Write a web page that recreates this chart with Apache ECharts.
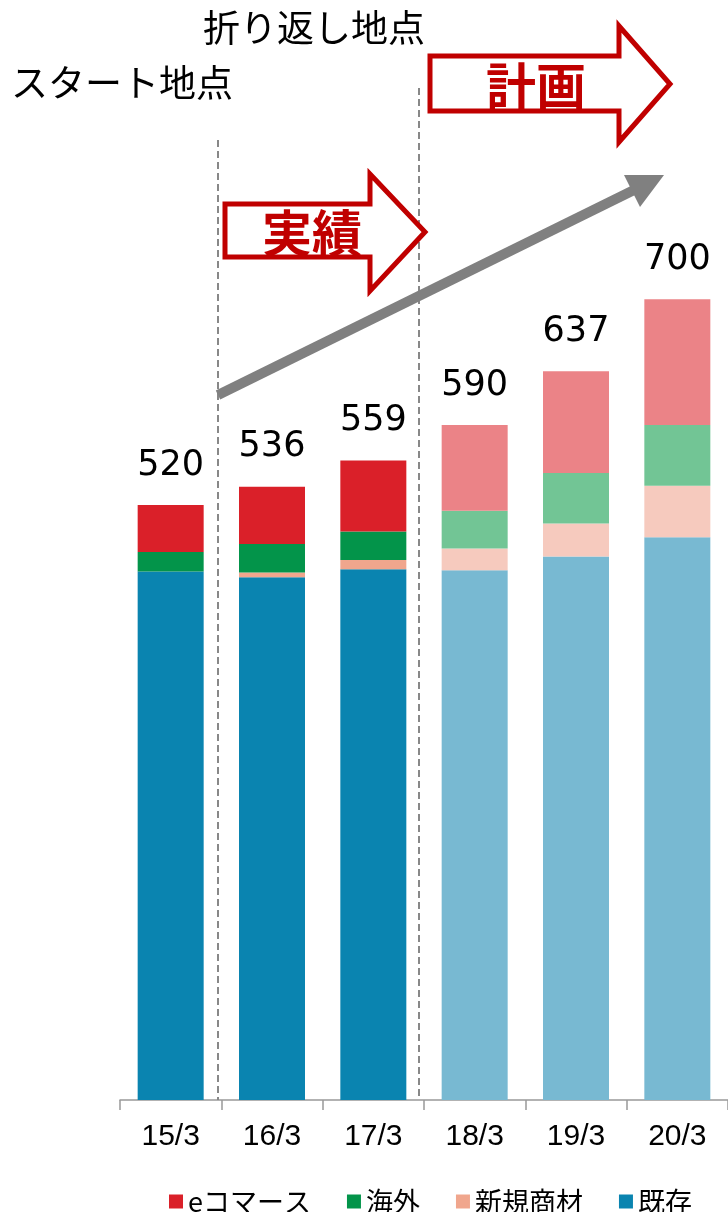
<!DOCTYPE html>
<html>
<head>
<meta charset="utf-8">
<script src="https://cdn.jsdelivr.net/npm/echarts@6/dist/echarts.min.js"></script>
<style>
html,body{margin:0;padding:0;background:#fff;}
#chart{width:728px;height:1212px;}
</style>
</head>
<body>
<div id="chart"></div>
<script>
// ---- data ----
var categories = ['15/3', '16/3', '17/3', '18/3', '19/3', '20/3'];
var existing   = [462, 457, 464, 463, 475, 492];   // 既存
var newGoods   = [0, 4, 8, 19, 29, 45];            // 新規商材
var overseas   = [17, 25, 25, 33, 44, 53];         // 海外
var ecommerce  = [41, 50, 62, 75, 89, 110];        // eコマース
var totals     = [520, 536, 559, 590, 637, 700];
var planStart  = 3; // index from which values are plan (計画)

var seriesNames = ['eコマース', '海外', '新規商材', '既存'];
var actualColors = {'eコマース':'#DA2029', '海外':'#03944A', '新規商材':'#F0A68D', '既存':'#0A84B0'};
var planColors   = {'eコマース':'#EB8387', '海外':'#72C595', '新規商材':'#F6CABE', '既存':'#78B9D2'};

function items(name, arr) {
  return arr.map(function (v, i) {
    return { value: v, itemStyle: { color: i >= planStart ? planColors[name] : actualColors[name] } };
  });
}

var chart = echarts.init(document.getElementById('chart'), null, {renderer: 'canvas'});

function mkSeries(name, arr, withLabel) {
  var s = {
    name: name,
    type: 'bar',
    stack: 'total',
    barWidth: 66,
    itemStyle: { color: actualColors[name] },
    data: items(name, arr),
    emphasis: { disabled: true }
  };
  if (withLabel) {
    s.label = {
      show: true,
      position: 'top',
      distance: 22,
      fontFamily: 'DejaVu Sans',
      fontSize: 35,
      color: '#000',
      formatter: function (p) { return String(totals[p.dataIndex]); }
    };
  }
  return s;
}

var red = '#C00000';
var option = {
  animation: false,
  backgroundColor: '#fff',
  grid: { left: 120, top: 1100 - 800 * 1.144, width: 612, height: 800 * 1.144 },
  xAxis: {
    type: 'category',
    data: categories,
    axisLine: { lineStyle: { color: '#999', width: 1.5 } },
    axisTick: { show: true, length: 10, lineStyle: { color: '#999', width: 1.5 } },
    axisLabel: { fontFamily: 'Liberation Sans', fontSize: 30, color: '#000', margin: 22 }
  },
  yAxis: { type: 'value', min: 0, max: 800, show: false, splitLine: { show: false } },
  legend: {
    data: seriesNames,
    left: 164,
    top: 1183,
    icon: 'rect',
    itemWidth: 14,
    itemHeight: 14,
    itemGap: 36,
    textStyle: { fontFamily: 'Noto Sans CJK JP', fontSize: 27, color: '#000' }
  },
  series: [
    mkSeries('既存', existing, false),
    mkSeries('新規商材', newGoods, false),
    mkSeries('海外', overseas, false),
    mkSeries('eコマース', ecommerce, true)
  ],
  graphic: [
    { type: 'line', shape: { x1: 218, y1: 140, x2: 218, y2: 1100 }, style: { stroke: '#888', lineWidth: 2, lineDash: [7, 4] }, z: 10 },
    { type: 'line', shape: { x1: 419, y1: 88, x2: 419, y2: 1100 }, style: { stroke: '#888', lineWidth: 2, lineDash: [7, 4] }, z: 10 },
    { type: 'line', shape: { x1: 218, y1: 395, x2: 634, y2: 190 }, style: { stroke: '#808080', lineWidth: 10 }, z: 10 },
    { type: 'polygon', shape: { points: [[624, 175], [664, 175], [640, 207]] }, style: { fill: '#808080' }, z: 10 },
    { type: 'polygon', shape: { points: [[430, 56], [619, 56], [619, 26], [670, 84], [619, 142], [619, 111], [430, 111]] },
      style: { fill: '#fff', stroke: red, lineWidth: 5 }, z: 11 },
    { type: 'polygon', shape: { points: [[225, 204], [370, 204], [370, 174], [425, 232], [370, 291], [370, 257], [225, 257]] },
      style: { fill: '#fff', stroke: red, lineWidth: 5 }, z: 11 },
    { type: 'text', x: 536, y: 86, style: { text: '計画', fill: red, font: 'bold 50px "Noto Sans CJK JP"', textAlign: 'center', textVerticalAlign: 'middle' }, z: 12 },
    { type: 'text', x: 312, y: 233, style: { text: '実績', fill: red, font: 'bold 50px "Noto Sans CJK JP"', textAlign: 'center', textVerticalAlign: 'middle' }, z: 12 },
    { type: 'text', x: 203, y: 28, style: { text: '折り返し地点', fill: '#000', font: '37px "Noto Sans CJK JP"', textAlign: 'left', textVerticalAlign: 'middle' }, z: 12 },
    { type: 'text', x: 11, y: 83, style: { text: 'スタート地点', fill: '#000', font: '37px "Noto Sans CJK JP"', textAlign: 'left', textVerticalAlign: 'middle' }, z: 12 }
  ]
};
chart.setOption(option);
</script>
</body>
</html>
